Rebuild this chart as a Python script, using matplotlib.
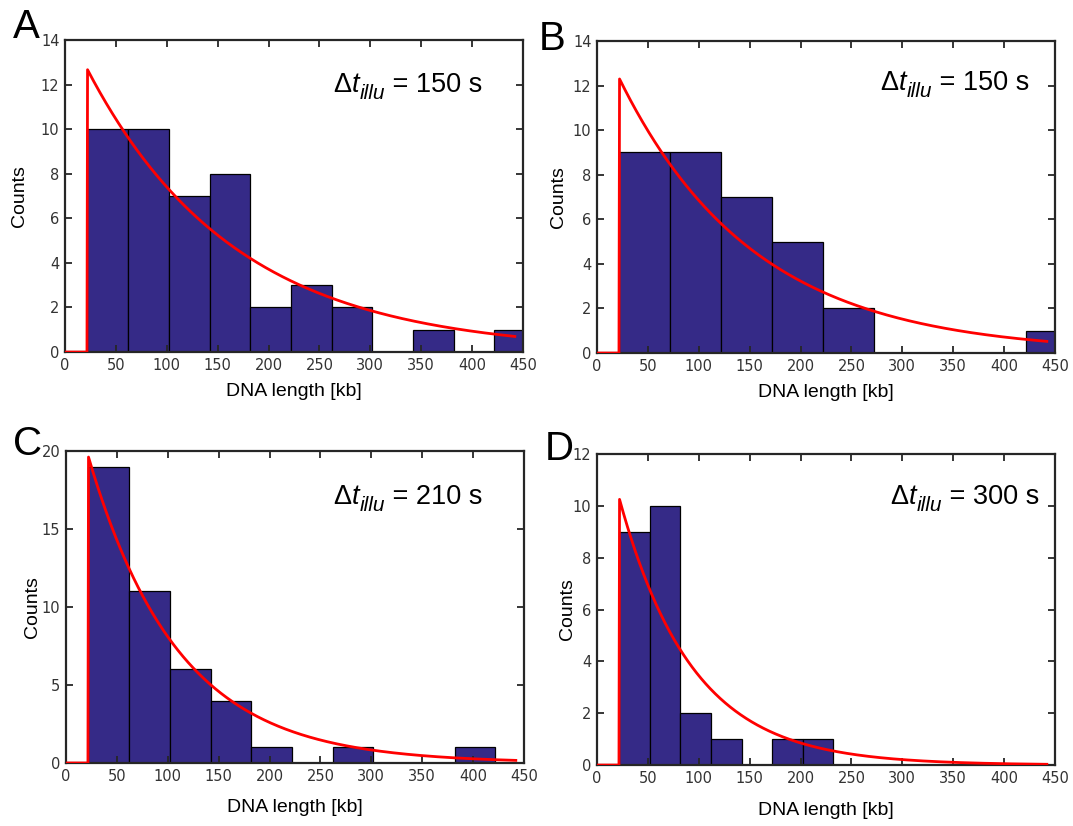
import numpy as np
import matplotlib
matplotlib.use('Agg')
import matplotlib.pyplot as plt

# histogram data: first bin edge, bin width, counts
starts = [22, 22, 22, 22]
widths = [40, 50, 40, 30]
counts_a = [10, 10, 7, 8, 2, 3, 2, 0, 1, 0, 1]
counts_b = [9, 9, 7, 5, 2, 0, 0, 0, 1]
counts_c = [19, 11, 6, 4, 1, 0, 1, 0, 0, 1]
counts_d = [9, 10, 2, 1, 0, 1, 1]
all_counts = [counts_a, counts_b, counts_c, counts_d]

# exponential fit: peak height, decay length [kb]
fit_amp = [12.68, 12.31, 19.64, 10.27]
fit_len = [145, 133, 88, 71.5]
fit_x0 = 22
fit_xend = 442

letters = ['A', 'B', 'C', 'D']
times = ['150', '150', '210', '300']
ymax = [14, 14, 20, 12]
ystep = [2, 2, 5, 2]

# layout (figure / axes fractions)
axes_pos = [[0.0606, 0.5738, 0.4268, 0.3777],
            [0.5564, 0.5726, 0.4268, 0.3777],
            [0.0615, 0.0763, 0.4268, 0.3777],
            [0.5564, 0.0738, 0.4268, 0.3765]]
text_pos = [(0.585, 0.834), (0.618, 0.843), (0.583, 0.831), (0.640, 0.840)]
letter_pos = [(0.012, 0.99), (0.502, 0.976), (0.012, 0.486), (0.508, 0.479)]
ylab_x = [-0.08, -0.065, -0.055, -0.045]
xlab_y = [-0.1, -0.1, -0.115, -0.12]

bar_color = '#352a87'
spine_color = '#262626'
font = 'Liberation Sans'

fig = plt.figure(figsize=(10.73, 8.26), dpi=100)

for i in range(4):
    ax = fig.add_axes(axes_pos[i])
    counts = all_counts[i]
    edges = starts[i] + widths[i] * np.arange(len(counts))
    ax.bar(edges, counts, width=widths[i], align='edge', color=bar_color,
           edgecolor='black', linewidth=0.9)

    x = np.linspace(0, fit_xend, 800)
    y = np.where(x >= fit_x0, fit_amp[i] * np.exp(-(x - fit_x0) / fit_len[i]), 0)
    ax.plot(x, y, color='red', linewidth=2, zorder=3)

    ax.set_xlim(0, 450)
    ax.set_ylim(0, ymax[i])
    ax.set_xticks(np.arange(0, 451, 50))
    ax.set_yticks(np.arange(0, ymax[i] + 1, ystep[i]))
    ax.tick_params(direction='in', top=True, right=True, length=5, width=1.3,
                   color=spine_color, labelsize=10.5, labelcolor='#333333', pad=4)
    for s in ax.spines.values():
        s.set_linewidth(1.6)
        s.set_color(spine_color)

    ax.set_xlabel('DNA length [kb]', fontsize=14, family=font)
    ax.set_ylabel('Counts', fontsize=14, family=font)
    ax.xaxis.set_label_coords(0.5, xlab_y[i])
    ax.yaxis.set_label_coords(ylab_x[i], 0.5)

    # "Δt_illu = ... s" built from pieces so the subscript stays large
    t1 = ax.text(text_pos[i][0], text_pos[i][1], 'Δ', transform=ax.transAxes,
                 fontsize=19.5, family=font, va='baseline')
    t2 = ax.annotate('t', xy=(1, 0), xycoords=t1, xytext=(0.3, 0),
                     textcoords='offset points', fontsize=19.5, family=font,
                     style='italic', va='bottom')
    t3 = ax.annotate('illu', xy=(1, 0), xycoords=t2, xytext=(0.5, -3.5),
                     textcoords='offset points', fontsize=15, family=font,
                     style='italic', va='bottom')
    ax.annotate(' = ' + times[i] + ' s', xy=(1, 0), xycoords=(t3, t2),
                xytext=(0, 0), textcoords='offset points', fontsize=19.5,
                family=font, va='bottom')

    fig.text(letter_pos[i][0], letter_pos[i][1], letters[i], fontsize=29,
             family=font, va='top', ha='left')

fig.savefig('out.png', dpi=100)
